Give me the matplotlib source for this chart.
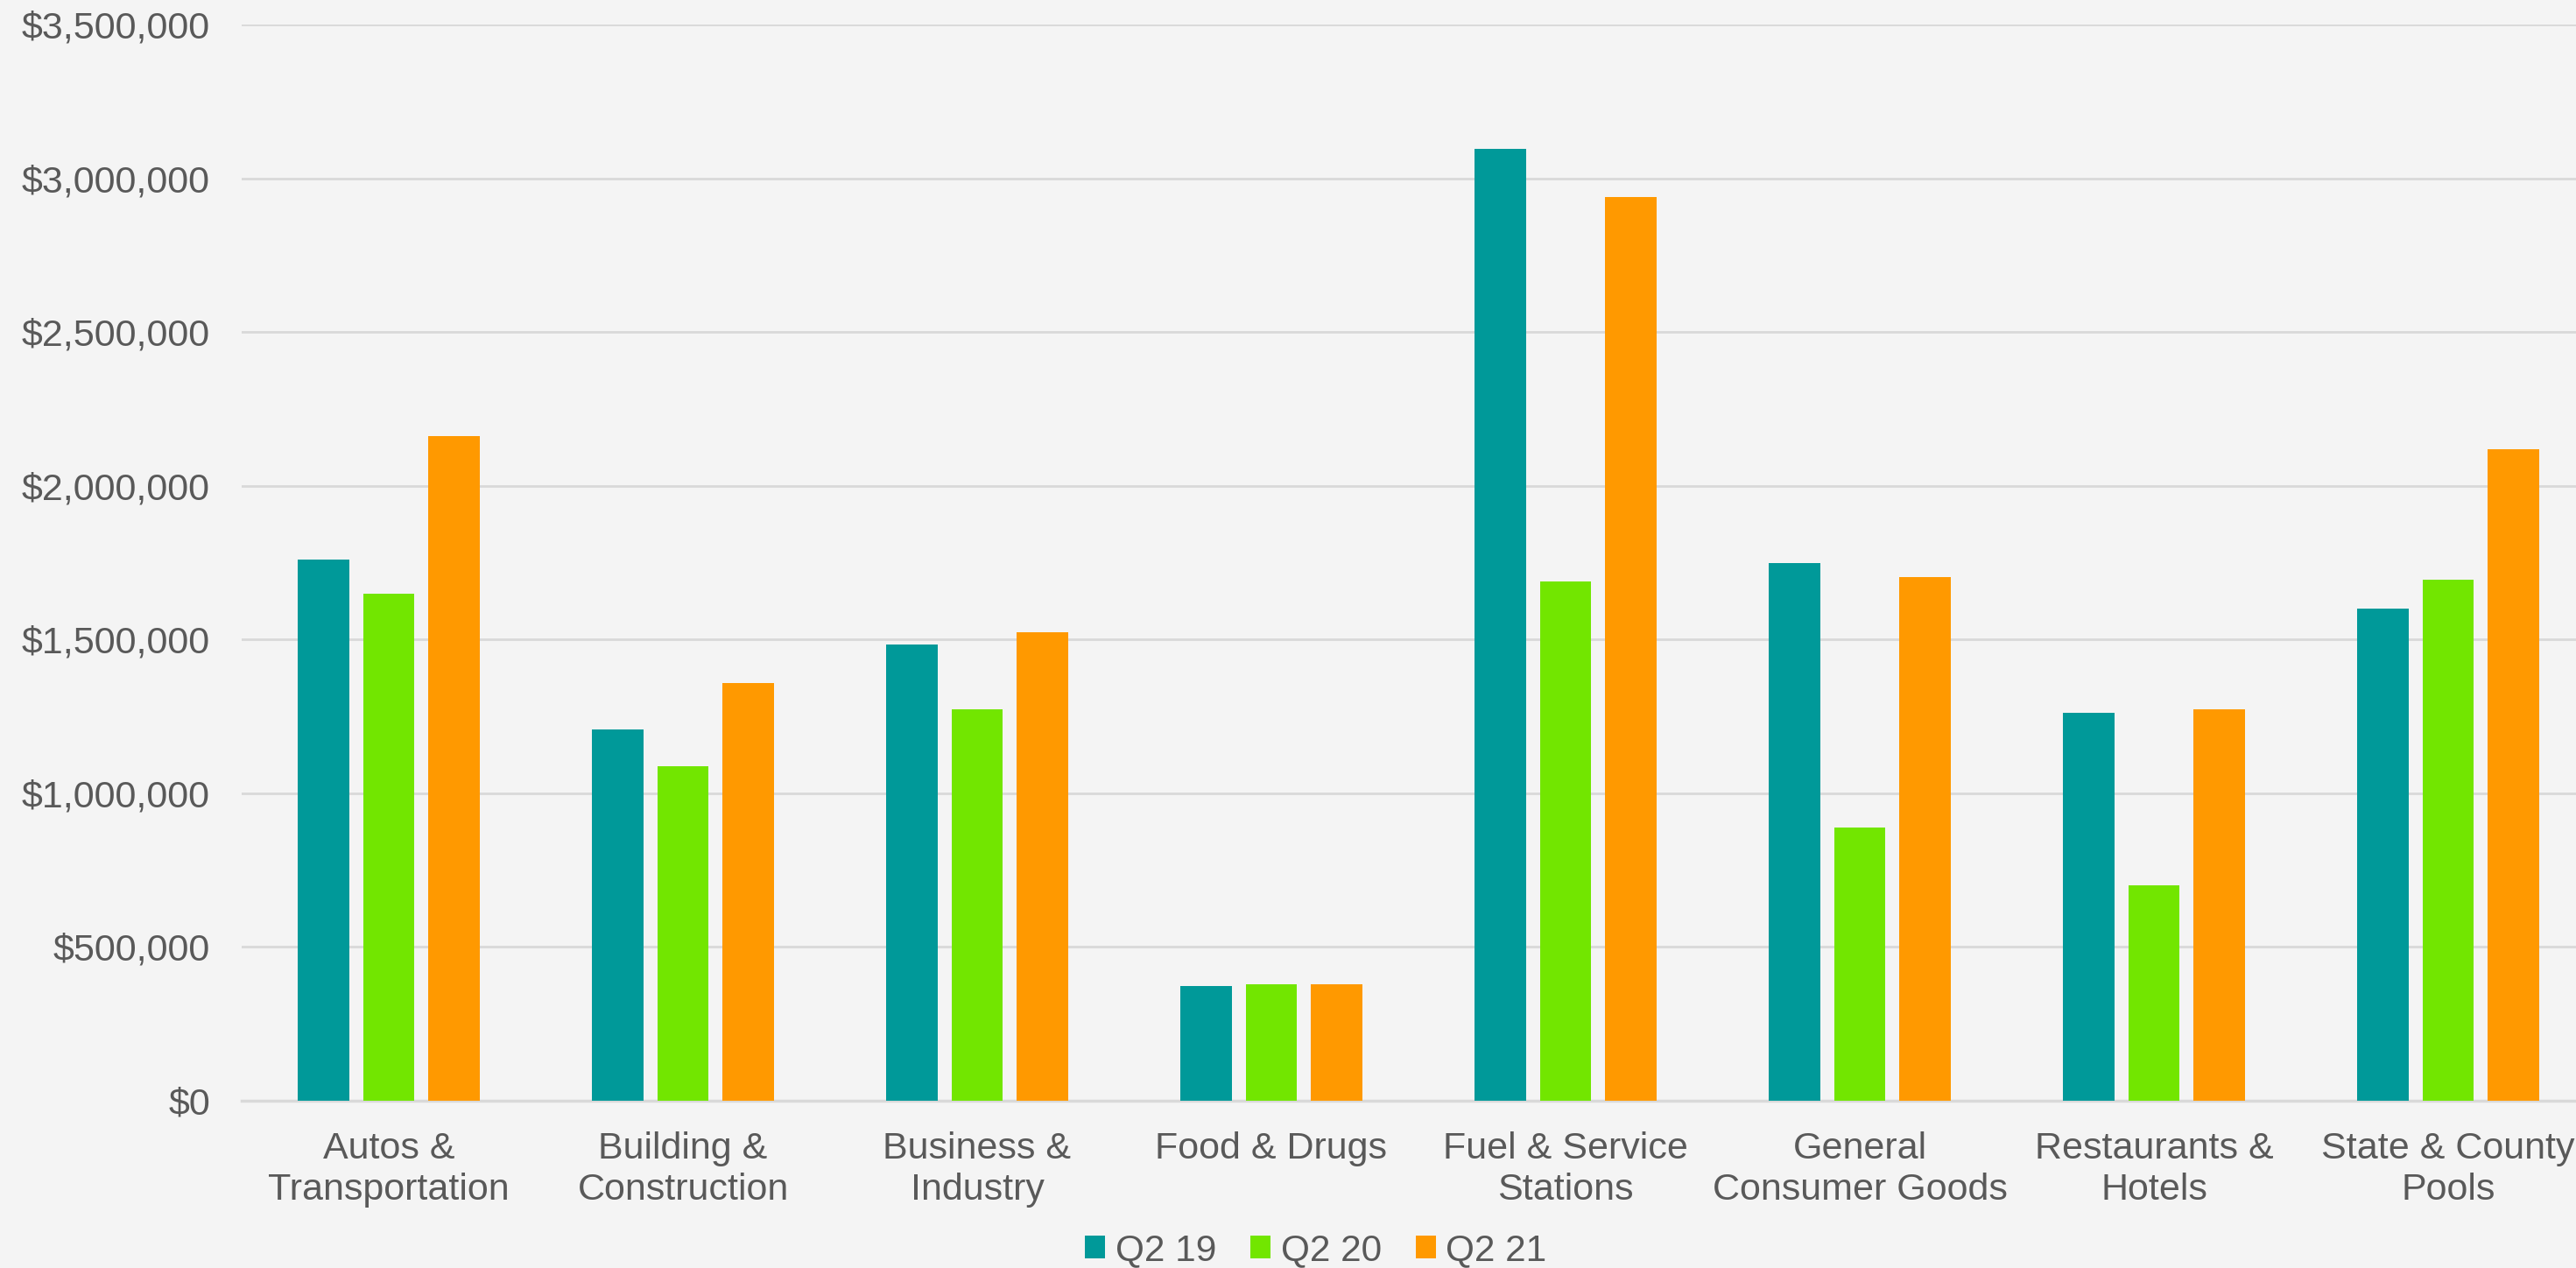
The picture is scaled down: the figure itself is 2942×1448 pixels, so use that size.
import numpy as np
import matplotlib.pyplot as plt
from matplotlib.ticker import FuncFormatter

categories = ["Autos &\nTransportation", "Building &\nConstruction", "Business &\nIndustry",
              "Food & Drugs", "Fuel & Service\nStations", "General\nConsumer Goods",
              "Restaurants &\nHotels", "State & County\nPools"]
q2_19 = [1760000, 1207000, 1484000, 374000, 3097000, 1749000, 1262000, 1601000]
q2_20 = [1649000, 1088000, 1273000, 380000, 1690000, 888000, 700000, 1694000]
q2_21 = [2162000, 1358000, 1524000, 380000, 2938000, 1702000, 1273000, 2118000]
series = ["Q2 19", "Q2 20", "Q2 21"]
colors = ["#009999", "#72E600", "#FF9900"]

bg = "#F4F4F4"
txt = "#595959"
plt.rcParams['font.family'] = ['Liberation Sans', 'DejaVu Sans']

W, H = 2942, 1448
fig = plt.figure(figsize=(W / 100, H / 100), dpi=100, facecolor=bg)
ax = fig.add_axes([276 / W, 191 / H, 2688 / W, (1257 - 28) / H])
ax.set_facecolor(bg)

x = np.arange(len(categories))
bw = 0.174
off = 0.2215
for i, (vals, name, c) in enumerate(zip([q2_19, q2_20, q2_21], series, colors)):
    ax.bar(x + (i - 1) * off, vals, bw, color=c, label=name, zorder=3)

ax.set_xlim(-0.5, len(categories) - 0.5)
ax.set_ylim(0, 3500000)
ax.set_yticks(np.arange(0, 3500001, 500000))
ax.yaxis.set_major_formatter(FuncFormatter(lambda v, p: f"${v:,.0f}"))
ax.grid(axis='y', color='#D9D9D9', linewidth=2, zorder=0)
ax.set_axisbelow(True)
for s in ["top", "right", "left"]:
    ax.spines[s].set_visible(False)
ax.spines["bottom"].set_color('#D9D9D9')
ax.spines["bottom"].set_linewidth(2.5)

ax.set_xticks(x)
ax.set_xticklabels(categories, linespacing=1.22)
ax.tick_params(axis='x', length=0, pad=25, labelsize=31, labelcolor=txt)
ax.tick_params(axis='y', length=0, pad=26, labelsize=31, labelcolor=txt)

leg = fig.legend(loc='center', bbox_to_anchor=(1503 / W, 20 / H), ncol=3, frameon=False,
                 fontsize=30.5, handlelength=0.54, handleheight=0.54,
                 handletextpad=0.27, columnspacing=0.93, labelcolor=txt)

fig.savefig("out.png", dpi=100, facecolor=bg)
